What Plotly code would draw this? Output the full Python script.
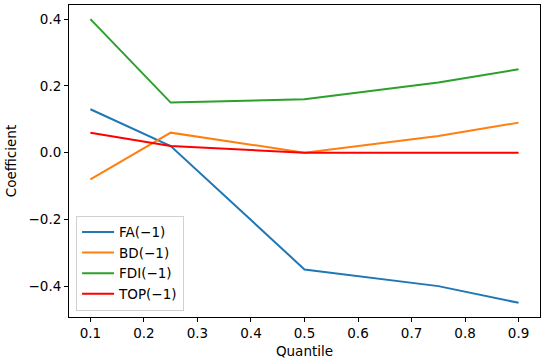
import plotly.graph_objects as go

quantiles = [0.1, 0.25, 0.5, 0.75, 0.9]
fa = [0.13, 0.02, -0.35, -0.40, -0.45]
bd = [-0.08, 0.06, 0.0, 0.05, 0.09]
fdi = [0.40, 0.15, 0.16, 0.21, 0.25]
top = [0.06, 0.02, 0.0, 0.0, 0.0]

series_names = ["FA(\u22121)", "BD(\u22121)", "FDI(\u22121)", "TOP(\u22121)"]
series_vals = [fa, bd, fdi, top]
colors = ["#1f77b4", "#ff7f0e", "#2ca02c", "#ff0000"]

x_ticks = [0.1, 0.2, 0.3, 0.4, 0.5, 0.6, 0.7, 0.8, 0.9]
x_ticktext = ["0.1", "0.2", "0.3", "0.4", "0.5", "0.6", "0.7", "0.8", "0.9"]
y_ticks = [-0.4, -0.2, 0.0, 0.2, 0.4]
y_ticktext = ["\u22120.4", "\u22120.2", "0.0", "0.2", "0.4"]

fig = go.Figure()
for name, vals, c in zip(series_names, series_vals, colors):
    fig.add_trace(go.Scatter(x=quantiles, y=vals, mode="lines", name=name,
                             line=dict(color=c, width=2)))

font = dict(family="DejaVu Sans", size=13.5, color="black")
fig.update_layout(
    width=550, height=364,
    margin=dict(l=69, r=10, t=5, b=47, autoexpand=False),
    paper_bgcolor="white", plot_bgcolor="white",
    font=font,
    showlegend=True,
    legend=dict(x=0.015, y=0.02, xanchor="left", yanchor="bottom",
                bordercolor="#d0d0d0", borderwidth=1, bgcolor="rgba(255,255,255,0.8)",
                font=font, tracegroupgap=0, itemwidth=32),
)
fig.update_xaxes(range=[0.06, 0.94], tickvals=x_ticks, ticktext=x_ticktext,
                 showline=True, linecolor="black", linewidth=1, mirror=True,
                 ticks="outside", ticklen=4, tickcolor="black", showgrid=False,
                 zeroline=False, automargin=False,
                 title=dict(text="Quantile", font=font, standoff=6))
fig.update_yaxes(range=[-0.4925, 0.4425], tickvals=y_ticks, ticktext=y_ticktext,
                 showline=True, linecolor="black", linewidth=1, mirror=True,
                 ticks="outside", ticklen=4, tickcolor="black", showgrid=False,
                 zeroline=False, automargin=False,
                 title=dict(text="Coefficient", font=font, standoff=8))

fig.write_html("out.html", config={"displayModeBar": False},
               post_script="document.body.style.margin='0';document.body.style.overflow='hidden';")
